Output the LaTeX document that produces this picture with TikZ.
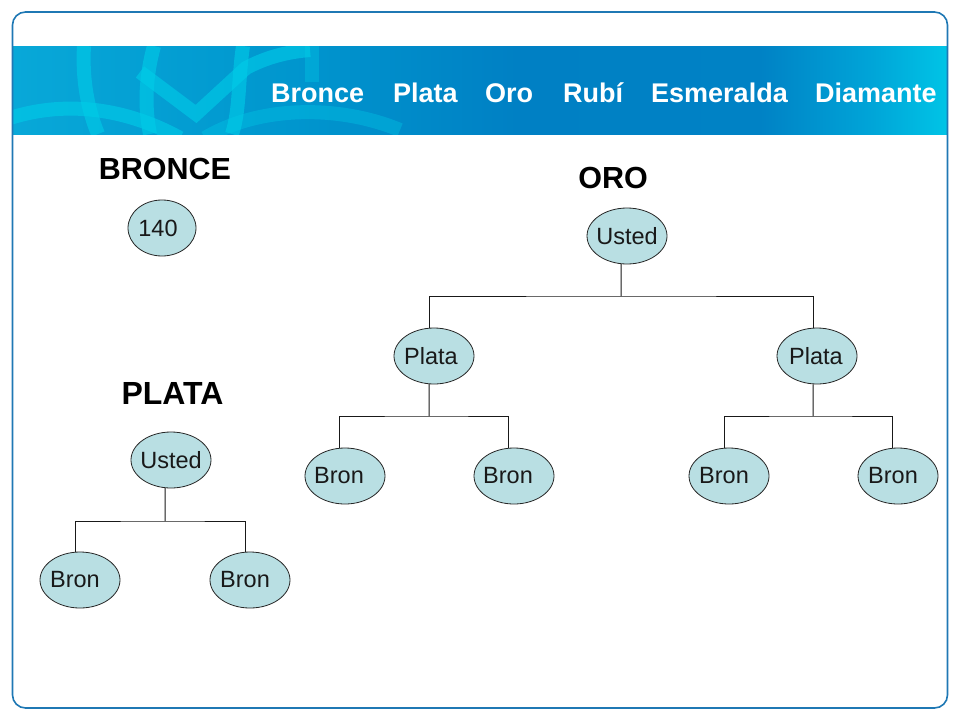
\documentclass[tikz,border=0pt]{standalone}
\usepackage{fontspec}
\setmainfont{Liberation Sans}
\usetikzlibrary{shapes.geometric}
\definecolor{frameBlue}{HTML}{1F78B4}
\definecolor{ovalFill}{HTML}{B9DFE3}
\definecolor{motifCyan}{HTML}{00CDE8}
\definecolor{bandA}{HTML}{08A8D8}
\definecolor{bandB}{HTML}{0096CE}
\definecolor{bandC}{HTML}{0080C4}
\definecolor{bandD}{HTML}{0082C5}
\definecolor{bandE}{HTML}{00A5D8}
\definecolor{bandF}{HTML}{00C4E6}
\pgfdeclarehorizontalshading{bandShade}{100bp}{
	color(0bp)=(bandA);
	color(25bp)=(bandA);
	color(40bp)=(bandB);
	color(52bp)=(bandC);
	color(65bp)=(bandD);
	color(71bp)=(bandE);
	color(75bp)=(bandF);
	color(100bp)=(bandF)}
\newcommand{\ovalTxt}[2]{\makebox[0pt]{\kern#1 #2}}
\tikzset{
		oval/.style={ellipse,draw=black!85,fill=ovalFill,line width=.8pt,minimum width=80pt,minimum height=56pt,inner sep=0pt,font=\fontsize{23.5}{26}\selectfont,text=black!90},
		tab/.style={anchor=base west,inner sep=0pt,text=white,font=\fontsize{27}{30}\selectfont\bfseries},
		heading/.style={inner sep=0pt,text=black,font=\fontsize{30.5}{34}\selectfont\bfseries},
		tie/.style={line width=1pt,draw=black!90},
		motif/.style={draw=motifCyan,opacity=.6,line width=14pt}}
\begin{document}
\begin{tikzpicture}[x=1pt,y=-1pt]
				\useasboundingbox (0,0) rectangle (960,720);
				%band
				\shade[shading=bandShade] (13,46) rectangle (947,134);
				\begin{scope}
					\clip (13,46) rectangle (947,134);
					\draw[motif] (84,46) .. controls (82,80) and (88,110) .. (98,134);
					\draw[motif] (154,46) .. controls (146,75) and (144,105) .. (150,134);
					\draw[motif] (243,46) .. controls (238,80) and (240,110) .. (232,134);
					\draw[motif] (140,72) -- (196,114) -- (246,68) .. controls (265,58) and (285,52) .. (310,50);
					\draw[motif] (10,118) .. controls (60,102) and (120,105) .. (180,138);
					\draw[motif,opacity=.35] (205,138) .. controls (260,105) and (340,105) .. (400,130);
					\draw[motif,opacity=.35] (312,46) -- (312,82);
				\end{scope}
				%frame
				\draw[frameBlue,line width=1.6pt,rounded corners=13pt] (12.5,12) rectangle (947.5,708);
				%tabs
				\node [tab] (bronceTab) at (271,102) {Bronce};
				\node [tab] (plataTab) at (393,102) {Plata};
				\node [tab] (oroTab) at (485,102) {Oro};
				\node [tab] (rubiTab) at (563,102) {Rubí};
				\node [tab] (esmeraldaTab) at (651,102) {Esmeralda};
				\node [tab] (diamanteTab) at (815,102) {Diamante};
				%headings
				\node [heading] (bronceHead) at (165,169) {BRONCE};
				\node [heading] (oroHead) at (613,178) {ORO};
				\node [heading, font=\fontsize{32}{34}\selectfont\bfseries] (plataHead) at (172.5,393) {PLATA};
				%bronce
				\node [oval, minimum width=68pt] (soloNode) at (162,228) {\ovalTxt{-8pt}{140}};
				%plata
				\node [oval] (ustedP) at (171,460) {\ovalTxt{0pt}{Usted}};
				\node [oval] (bronP1) at (80,580) {\ovalTxt{-10pt}{Bron}};
				\node [oval] (bronP2) at (250,580) {\ovalTxt{-10pt}{Bron}};
				\coordinate (busP) at (165,521);
				%oro
				\node [oval] (ustedO) at (627,236) {\ovalTxt{0pt}{Usted}};
				\node [oval] (plataA) at (434,356) {\ovalTxt{-6pt}{Plata}};
				\node [oval] (plataB) at (817,356) {\ovalTxt{-2pt}{Plata}};
				\node [oval] (bronA1) at (345,476) {\ovalTxt{-12pt}{Bron}};
				\node [oval] (bronA2) at (514,476) {\ovalTxt{-12pt}{Bron}};
				\node [oval] (bronB1) at (729,476) {\ovalTxt{-10pt}{Bron}};
				\node [oval] (bronB2) at (898,476) {\ovalTxt{-10pt}{Bron}};
				\coordinate (busO) at (621,296);
				\coordinate (busA) at (429,416);
				\coordinate (busB) at (813,416);
				%edges
				\draw[tie] (ustedP.258) -- (busP);
				\draw[tie] (bronP1.100) |- (busP) -| (bronP2.100);
				\draw[tie] (ustedO.258) -- (busO);
				\draw[tie] (plataA.100) |- (busO) -| (plataB.98);
				\draw[tie] (plataA.260) -- (busA);
				\draw[tie] (bronA1.102) |- (busA) -| (bronA2.102);
				\draw[tie] (plataB.262) -- (busB);
				\draw[tie] (bronB1.100) |- (busB) -| (bronB2.102);
			\end{tikzpicture}
\end{document}
